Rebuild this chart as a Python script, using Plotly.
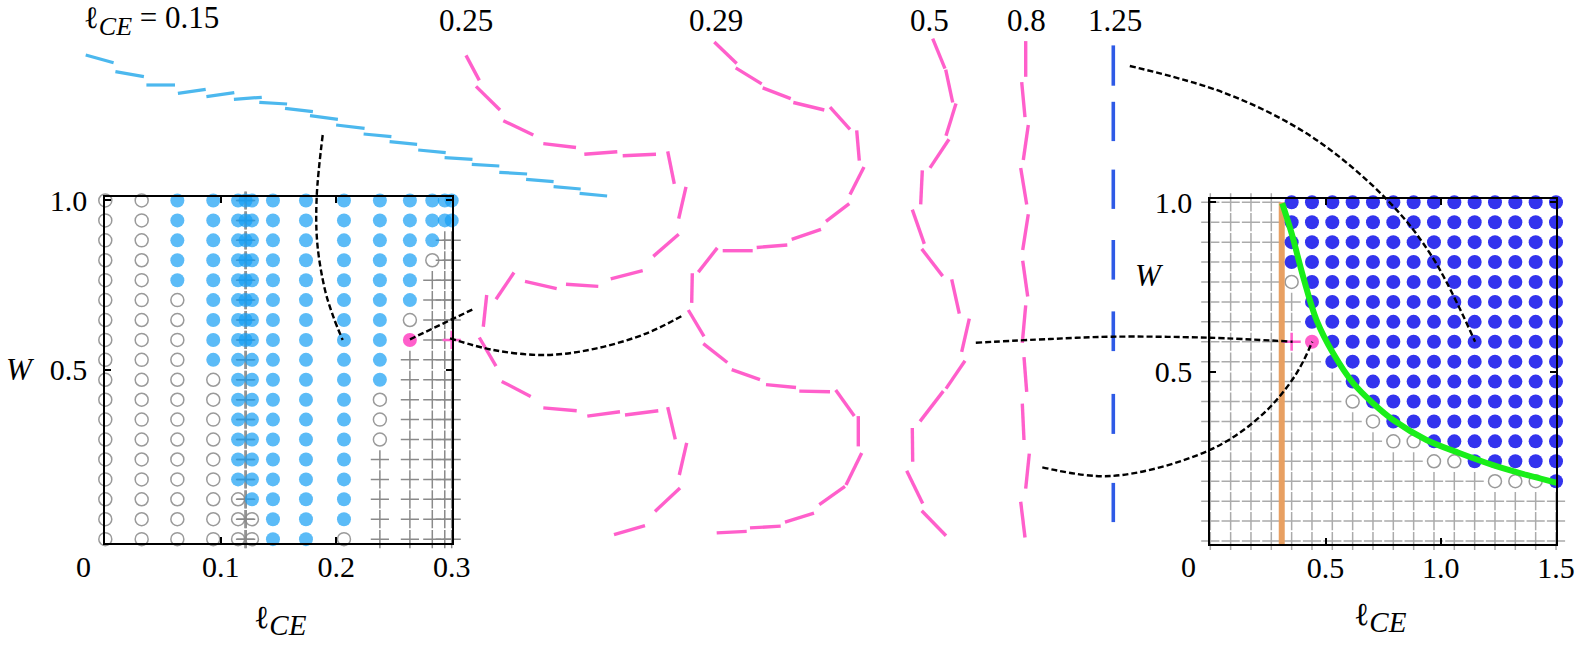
import plotly.graph_objects as go

FONT = "Liberation Serif"
N_ROWS = 18
W_VALUES = [1 - i / 17 for i in range(N_ROWS)]  # row 0 = top (W = 1)

# ---------------- left panel (l_CE 0..0.3) : one code string per column ----------------
# b = filled (blue), o = open circle, + = cross, p = highlighted dot, q = highlighted cross
LEFT_X = [0.0, 0.0315, 0.0624, 0.0935, 0.115, 0.121, 0.122, 0.1215, 0.127,
          0.1452, 0.1738, 0.2067, 0.2378, 0.2638, 0.2832, 0.294, 0.300]
LEFT_CODES = [
    "oooooooooooooooooo",
    "oooooooooooooooooo",
    "bbbbbooooooooooooo",
    "bbbbbbbbbooooooooo",
    "bbbbbbbbbbbbbbbooo",
    "++++++++++++++++++",
    "++++++++++++++++++",
    "bbbbbbbb..........",
    "bbbbbbbbbbbbbbbboo",
    "bbbbbbbbbbbbbbbbbb",
    "bbbbbbbbbbbbbbbbbb",
    "bbbbbbbbbbbbbbbbbo",
    "bbbbbbbbbbooo+++++",
    "bbbbbbop++++++++++",
    "bbbo++++++++++++++",
    "bb++++++++++++++++",
    "bb+++++q++++++++++",
]

# ---------------- right panel (l_CE 0..1.5) : one code string per row (top -> bottom) ----------------
RIGHT_X = [k * 1.5 / 17 for k in range(18)]
RIGHT_CODES = [
    "++++bbbbbbbbbbbbbb",
    "++++bbbbbbbbbbbbbb",
    "++++bbbbbbbbbbbbbb",
    "++++bbbbbbbbbbbbbb",
    "++++obbbbbbbbbbbbb",
    "+++++bbbbbbbbbbbbb",
    "+++++bbbbbbbbbbbbb",
    "++++qpbbbbbbbbbbbb",
    "++++++bbbbbbbbbbbb",
    "+++++++bbbbbbbbbbb",
    "+++++++obbbbbbbbbb",
    "++++++++obbbbbbbbb",
    "+++++++++oobbbbbbb",
    "+++++++++++oobbbbb",
    "++++++++++++++ooob",
    "++++++++++++++++++",
    "++++++++++++++++++",
    "++++++++++++++++++",
]
ORANGE_X = 0.31
GREEN_X = [0.312, 0.353, 0.403, 0.461, 0.533, 0.620, 0.707, 0.794, 0.938, 1.083, 1.227, 1.372, 1.502]
GREEN_W = [0.997, 0.908, 0.780, 0.652, 0.554, 0.466, 0.406, 0.357, 0.298, 0.259, 0.224, 0.195, 0.172]

# ---------------- rod chains in the middle (figure pixel units), (x0, y0, x1, y1) ----------------
RODS_015 = [(85.7, 55.0, 113.6, 62.7), (115.4, 71.7, 143.9, 76.7), (146.4, 85.0, 175.0, 85.0),
            (177.9, 93.3, 205.7, 89.3), (206.4, 96.7, 234.3, 92.7), (233.9, 99.3, 261.8, 97.3),
            (259.3, 102.3, 287.1, 104.0), (285.0, 108.3, 312.9, 111.7), (310.0, 115.7, 337.9, 119.3),
            (336.1, 125.0, 364.6, 128.3), (363.6, 134.0, 391.4, 136.7), (389.6, 141.7, 417.1, 144.3),
            (418.2, 150.0, 445.7, 152.7), (444.6, 157.7, 472.5, 159.3), (471.8, 164.3, 499.3, 166.0),
            (499.3, 172.3, 527.1, 174.0), (526.1, 179.3, 553.6, 181.7), (553.6, 186.7, 580.7, 189.0),
            (579.6, 193.3, 607.1, 196.0)]
RODS_025 = [(466.0, 55.4, 479.3, 80.4), (476.0, 86.4, 500.0, 110.0), (503.3, 120.7, 533.3, 135.0),
            (543.3, 143.6, 576.0, 147.5), (584.3, 154.3, 617.3, 151.8), (622.7, 155.7, 656.0, 154.3),
            (667.7, 151.4, 674.3, 183.9), (686.0, 186.8, 678.7, 218.6), (678.7, 234.3, 653.3, 256.4),
            (642.7, 270.7, 610.7, 278.9), (598.3, 286.4, 566.0, 284.3), (556.7, 288.6, 525.0, 281.4),
            (514.0, 272.5, 496.0, 299.3), (486.7, 295.0, 483.3, 326.8), (479.3, 337.5, 496.0, 366.1),
            (501.7, 381.4, 530.7, 396.4), (543.3, 407.9, 576.7, 410.7), (587.3, 416.1, 620.0, 411.8),
            (625.0, 415.0, 658.3, 410.7), (667.7, 407.1, 675.3, 439.3), (686.7, 442.9, 679.3, 475.0),
            (680.0, 487.9, 655.0, 511.4), (645.0, 525.7, 614.0, 534.6)]
RODS_029 = [(714.3, 42.1, 736.7, 63.6), (735.7, 67.9, 761.7, 83.9), (762.7, 87.9, 790.7, 98.6),
            (793.3, 102.5, 824.3, 110.0), (830.0, 107.1, 850.0, 129.3), (856.7, 130.4, 859.3, 160.7),
            (864.0, 167.1, 850.0, 194.6), (849.3, 203.6, 826.0, 221.4), (821.0, 229.3, 791.7, 239.3),
            (787.3, 245.0, 756.7, 247.5), (752.7, 250.7, 722.7, 250.7), (717.3, 247.9, 698.3, 272.1),
            (692.3, 273.2, 691.7, 302.9), (688.3, 310.0, 704.0, 336.4), (703.3, 343.6, 727.3, 362.5),
            (731.7, 369.6, 760.0, 379.6), (766.0, 384.6, 796.0, 387.5), (799.3, 391.1, 830.0, 391.8),
            (835.7, 390.0, 854.3, 416.1), (858.3, 416.1, 858.3, 446.4), (861.7, 452.9, 846.0, 485.0),
            (845.0, 486.4, 819.3, 504.6), (814.0, 513.2, 785.0, 522.1), (780.7, 526.1, 750.0, 527.9),
            (746.7, 531.4, 716.7, 532.9)]
RODS_05 = [(932.7, 38.6, 945.0, 68.6), (945.7, 69.6, 952.7, 102.5), (956.0, 103.6, 946.0, 135.7),
           (949.0, 139.3, 930.0, 167.9), (922.3, 170.4, 920.7, 204.3), (912.3, 209.6, 924.3, 243.9),
           (921.7, 248.9, 942.7, 276.1), (951.7, 279.3, 959.3, 313.6), (969.3, 318.6, 961.7, 351.8),
           (965.0, 360.7, 946.0, 388.6), (943.3, 391.1, 920.0, 421.4), (912.3, 427.9, 912.7, 461.8),
           (906.7, 470.7, 922.7, 503.6), (921.7, 510.7, 946.0, 535.7)]
RODS_08 = [(1025.7, 41.1, 1025.7, 76.8), (1021.7, 82.1, 1025.0, 117.1), (1028.3, 125.0, 1023.3, 160.0),
           (1020.7, 167.9, 1026.7, 204.6), (1028.3, 214.3, 1022.7, 250.0), (1022.7, 260.7, 1027.7, 296.4),
           (1025.7, 305.4, 1022.3, 342.9), (1024.0, 357.1, 1026.7, 391.8), (1022.3, 403.6, 1024.0, 440.0),
           (1029.3, 453.6, 1025.7, 488.6), (1020.7, 501.8, 1025.0, 537.5)]
RODS_125 = [(1113.3, 45.4, 1113.3, 85.7), (1113.3, 101.8, 1113.3, 141.1), (1113.3, 169.6, 1113.3, 208.9),
            (1113.3, 240.0, 1113.3, 279.6), (1113.3, 311.4, 1113.3, 351.1), (1113.3, 393.9, 1113.3, 433.9),
            (1113.3, 482.9, 1113.3, 522.1)]

# connectors (figure pixel units)
CONN_1_X = [322.7, 316.7, 317.3, 325.0, 333.3, 342.7]
CONN_1_Y = [135.0, 196.7, 243.3, 290.0, 316.7, 340.0]
CONN_2_X = [410.0, 475.0]
CONN_2_Y = [339.3, 308.3]
CONN_3_X = [450.0, 493.3, 546.7, 596.7, 646.7, 681.7]
CONN_3_Y = [338.3, 350.0, 355.0, 348.3, 333.3, 316.0]
CONN_4_X = [975.8, 1050.0, 1111.8, 1208.3, 1292.6]
CONN_4_Y = [342.7, 339.0, 336.7, 337.7, 341.7]
CONN_5_X = [1042.3, 1111.8, 1208.3, 1260.0, 1294.4, 1312.3]
CONN_5_Y = [467.3, 476.0, 450.7, 416.7, 376.7, 341.7]
CONN_6_X = [1129.8, 1225.5, 1311.6, 1387.3, 1432.1, 1475.1]
CONN_6_Y = [66.0, 93.3, 136.7, 200.0, 256.7, 341.7]

SUB_CE_TOP = "<sub><span style='font-size:26px'><i>CE</i></span></sub>"
SUB_CE_AX = "<sub><span style='font-size:29px'><i>CE</i></span></sub>"
CURVE_LABELS = ["ℓ" + SUB_CE_TOP + " = 0.15", "0.25", "0.29", "0.5", "0.8", "1.25"]
CURVE_LABEL_X = [82, 466, 716, 929, 1026, 1115]

# ---------------- colours ----------------
C_LIGHTBLUE = "rgba(21,158,244,0.7)"
C_BLUE = "#3333EE"
C_GREY_O = "#9a9a9a"
C_GREY_P_L = "#8a8a8a"
C_GREY_P_R = "#ababab"
C_PINK = "#FF5FCB"
C_ROD_BLUE = "#4CB8EE"
C_ROD_DBLUE = "#2E5AE6"
C_GREEN = "#19EE19"
C_ORANGE = "#E8A062"


def collect_cols(xs, codes, code):
    px, py = [], []
    for x, col in zip(xs, codes):
        for i, c in enumerate(col):
            if c == code:
                px.append(x)
                py.append(W_VALUES[i])
    return px, py


def collect_rows(xs, codes, code):
    px, py = [], []
    for i, row in enumerate(codes):
        for x, c in zip(xs, row):
            if c == code:
                px.append(x)
                py.append(W_VALUES[i])
    return px, py


def rods_xy(rods):
    xs, ys = [], []
    for x0, y0, x1, y1 in rods:
        xs += [x0, x1, None]
        ys += [y0, y1, None]
    return xs, ys


fig = go.Figure()

# ---- left panel ----
x, y = collect_cols(LEFT_X, LEFT_CODES, "o")
fig.add_trace(go.Scatter(x=x, y=y, mode="markers", xaxis="x", yaxis="y", cliponaxis=False,
                         marker=dict(symbol="circle-open", size=13, color=C_GREY_O,
                                     line=dict(width=1.5, color=C_GREY_O))))
x, y = collect_cols(LEFT_X, LEFT_CODES, "+")
fig.add_trace(go.Scatter(x=x, y=y, mode="markers", xaxis="x", yaxis="y", cliponaxis=False,
                         marker=dict(symbol="cross-thin-open", size=13, color=C_GREY_P_L,
                                     line=dict(width=1.5, color=C_GREY_P_L))))
x, y = collect_cols(LEFT_X, LEFT_CODES, "b")
fig.add_trace(go.Scatter(x=x, y=y, mode="markers", xaxis="x", yaxis="y", cliponaxis=False,
                         marker=dict(symbol="circle", size=14, color=C_LIGHTBLUE, line=dict(width=0))))
x, y = collect_cols(LEFT_X, LEFT_CODES, "q")
fig.add_trace(go.Scatter(x=x, y=y, mode="markers", xaxis="x", yaxis="y", cliponaxis=False,
                         marker=dict(symbol="cross-thin-open", size=13, color=C_PINK,
                                     line=dict(width=2.5, color=C_PINK))))
x, y = collect_cols(LEFT_X, LEFT_CODES, "p")
fig.add_trace(go.Scatter(x=x, y=y, mode="markers", xaxis="x", yaxis="y", cliponaxis=False,
                         marker=dict(symbol="circle", size=14, color=C_PINK, line=dict(width=0))))

# ---- right panel ----
x, y = collect_rows(RIGHT_X, RIGHT_CODES, "+")
fig.add_trace(go.Scatter(x=x, y=y, mode="markers", xaxis="x2", yaxis="y2", cliponaxis=False,
                         marker=dict(symbol="cross-thin-open", size=13, color=C_GREY_P_R,
                                     line=dict(width=1.5, color=C_GREY_P_R))))
x, y = collect_rows(RIGHT_X, RIGHT_CODES, "o")
fig.add_trace(go.Scatter(x=x, y=y, mode="markers", xaxis="x2", yaxis="y2", cliponaxis=False,
                         marker=dict(symbol="circle-open", size=13, color=C_GREY_O,
                                     line=dict(width=1.5, color=C_GREY_O))))
fig.add_trace(go.Scatter(x=[ORANGE_X, ORANGE_X], y=[-0.0089, 1.0], mode="lines", xaxis="x2", yaxis="y2",
                         line=dict(color=C_ORANGE, width=6)))
x, y = collect_rows(RIGHT_X, RIGHT_CODES, "b")
fig.add_trace(go.Scatter(x=x, y=y, mode="markers", xaxis="x2", yaxis="y2", cliponaxis=False,
                         marker=dict(symbol="circle", size=14, color=C_BLUE, line=dict(width=0))))
fig.add_trace(go.Scatter(x=GREEN_X, y=GREEN_W, mode="lines", xaxis="x2", yaxis="y2", cliponaxis=False,
                         line=dict(color=C_GREEN, width=6, shape="spline")))
x, y = collect_rows(RIGHT_X, RIGHT_CODES, "q")
fig.add_trace(go.Scatter(x=x, y=y, mode="markers", xaxis="x2", yaxis="y2", cliponaxis=False,
                         marker=dict(symbol="cross-thin-open", size=13, color=C_PINK,
                                     line=dict(width=2.5, color=C_PINK))))
x, y = collect_rows(RIGHT_X, RIGHT_CODES, "p")
fig.add_trace(go.Scatter(x=x, y=y, mode="markers", xaxis="x2", yaxis="y2", cliponaxis=False,
                         marker=dict(symbol="circle", size=14, color=C_PINK, line=dict(width=0))))

# ---- middle rod chains ----
for rods, col, w in [(RODS_015, C_ROD_BLUE, 3.2), (RODS_025, C_PINK, 3.4), (RODS_029, C_PINK, 3.4),
                     (RODS_05, C_PINK, 3.4), (RODS_08, C_PINK, 3.4), (RODS_125, C_ROD_DBLUE, 3.6)]:
    x, y = rods_xy(rods)
    fig.add_trace(go.Scatter(x=x, y=y, mode="lines", xaxis="x3", yaxis="y3",
                             line=dict(color=col, width=w)))

# ---- connectors ----
for cx, cy in [(CONN_1_X, CONN_1_Y), (CONN_2_X, CONN_2_Y), (CONN_3_X, CONN_3_Y),
               (CONN_4_X, CONN_4_Y), (CONN_5_X, CONN_5_Y), (CONN_6_X, CONN_6_Y)]:
    fig.add_trace(go.Scatter(x=cx, y=cy, mode="lines", xaxis="x3", yaxis="y3",
                             line=dict(color="black", width=2.4, dash="6px,3px", shape="spline")))

W_PX, H_PX = 1577, 646
axis_style = dict(showline=True, linecolor="black", linewidth=2, mirror="ticks", ticks="inside",
                  ticklen=6, tickwidth=2, tickcolor="black", showgrid=False, zeroline=False,
                  automargin=False,
                  tickfont=dict(family=FONT, size=30, color="black"))

annotations = []
for txt, xx in zip(CURVE_LABELS, CURVE_LABEL_X):
    annotations.append(dict(x=xx, y=20, xref="x3", yref="y3", text=txt, showarrow=False,
                            xanchor="left" if txt.startswith("ℓ") else "center", yanchor="middle",
                            font=dict(family=FONT, size=31, color="black")))
for txt, xx, yy, fs in [("<i>W</i>", 20, 369, 31), ("<i>W</i>", 1149, 275, 31),
                        ("ℓ" + SUB_CE_AX, 280, 620, 32), ("ℓ" + SUB_CE_AX, 1380, 617, 32),
                        ("0", 83, 566, 30), ("0", 1188, 566, 30)]:
    annotations.append(dict(x=xx, y=yy, xref="x3", yref="y3", text=txt, showarrow=False,
                            xanchor="center", yanchor="middle",
                            font=dict(family=FONT, size=fs, color="black")))

fig.update_layout(
    template="none",
    width=W_PX, height=H_PX, autosize=False,
    margin=dict(l=0, r=0, t=0, b=0, pad=0, autoexpand=False),
    paper_bgcolor="white", plot_bgcolor="rgba(0,0,0,0)",
    showlegend=False,
    xaxis=dict(domain=[105.3 / W_PX, 451.7 / W_PX], range=[0, 0.3], anchor="y",
               tickvals=[0.1, 0.2, 0.3], ticktext=["0.1", "0.2", "0.3"], ticklabelstandoff=-4, **axis_style),
    yaxis=dict(domain=[1 - 542.7 / H_PX, 1 - 196.7 / H_PX], range=[-0.0105, 1.0112], anchor="x",
               tickvals=[0.5, 1.0], ticktext=["0.5", "1.0"], ticklabelstandoff=10, **axis_style),
    xaxis2=dict(domain=[1210.3 / W_PX, 1556 / W_PX], range=[0, 1.5], anchor="y2",
                tickvals=[0.5, 1.0, 1.5], ticktext=["0.5", "1.0", "1.5"], ticklabelstandoff=-4, **axis_style),
    yaxis2=dict(domain=[1 - 544 / H_PX, 1 - 199 / H_PX], range=[-0.0089, 1.0097], anchor="x2",
                tickvals=[0.5, 1.0], ticktext=["0.5", "1.0"], ticklabelstandoff=10, **axis_style),
    xaxis3=dict(domain=[0, 1], range=[0, W_PX], anchor="y3", visible=False, fixedrange=True,
                automargin=False),
    yaxis3=dict(domain=[0, 1], range=[H_PX, 0], anchor="x3", visible=False, fixedrange=True,
                automargin=False),
    annotations=annotations,
)

fig.write_html("out.html", config={"displayModeBar": False},
               post_script="document.body.style.margin='0';")
